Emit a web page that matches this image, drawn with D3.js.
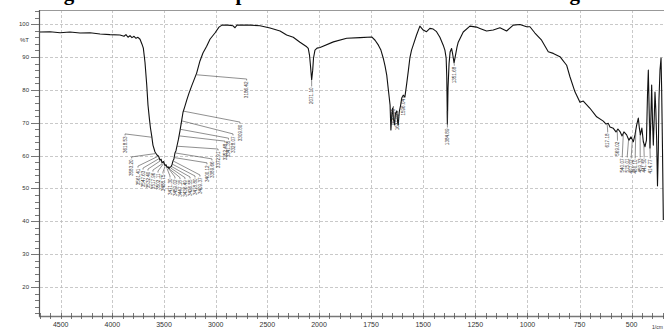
<!DOCTYPE html>
<html>
<head>
<meta charset="utf-8">
<script src="https://cdn.jsdelivr.net/npm/d3@7"></script>
<style>
  body { margin: 0; background: #fff; }
  svg { display: block; }
  .lbl { font-family: "Liberation Sans", Arial, sans-serif; fill: #333; }
  .title { font-family: "Liberation Serif", "Times New Roman", serif; font-weight: bold; font-size: 21px; fill: #000; }
</style>
</head>
<body>
<div id="chart"></div>
<script>
// spectrum (wavenumber in 1/cm, transmittance in %T)
const wavenumbers = [4700, 4603, 4506, 4410, 4313, 4216, 4119, 4023, 3926, 3887, 3868, 3848, 3829, 3810, 3790, 3771, 3752,
  3732, 3713, 3700, 3684, 3667, 3655, 3642, 3631, 3619, 3607, 3587, 3568, 3552, 3539, 3528, 3519, 3505, 3490, 3480, 3471,
  3460, 3452, 3442, 3432, 3422, 3413, 3404, 3394, 3384, 3374, 3360, 3345, 3330, 3316, 3298, 3280, 3258, 3232, 3184, 3152,
  3123, 3087, 3055, 3007, 2968, 2939, 2881, 2832, 2813, 2794, 2668, 2571, 2474, 2377, 2313, 2249, 2184, 2119, 2104, 2092,
  2082, 2071, 2061, 2053, 2039, 2019, 1995, 1931, 1867, 1803, 1747, 1731, 1715, 1703, 1692, 1683, 1675, 1667, 1659, 1655,
  1651, 1647, 1643, 1638, 1633, 1627, 1623, 1620, 1615, 1609, 1603, 1596, 1588, 1580, 1571, 1564, 1556, 1548, 1532, 1516,
  1500, 1484, 1468, 1452, 1436, 1420, 1404, 1396, 1390, 1387, 1384, 1381, 1376, 1371, 1364, 1359, 1352, 1345, 1338, 1332,
  1308, 1276, 1244, 1228, 1196, 1164, 1132, 1100, 1068, 1036, 1004, 988, 964, 932, 900, 876, 844, 812, 796, 772, 748, 732,
  700, 668, 636, 623, 612, 604, 588, 575, 566, 556, 546, 537, 524, 513, 503, 492, 484, 476, 468, 463, 458, 451, 444, 436,
  429, 424, 420, 416, 412, 408, 404, 400, 396, 392, 388, 384, 380, 376, 372, 369, 364, 359, 356, 352, 348];
const transmittance = [97.6, 97.7, 97.4, 97.6, 97.3, 97.4, 97.0, 96.8, 96.7, 96.3, 96.8, 96.0, 96.5, 95.9, 96.3, 95.7, 96.0,
  95.4, 93.9, 92.7, 88.4, 81.5, 75.4, 71.4, 68.4, 66.0, 63.2, 61.1, 60.2, 59.8, 58.6, 58.9, 57.8, 58.2, 57.0, 57.2, 56.4,
  56.6, 56.0, 56.5, 56.6, 57.3, 58.4, 59.0, 60.8, 61.5, 63.0, 65.0, 67.6, 70.5, 73.2, 75.0, 76.9, 79.0, 81.2, 85.1, 88.8,
  91.2, 93.3, 95.4, 97.3, 99.1, 99.7, 99.7, 99.5, 98.9, 99.7, 99.7, 99.5, 98.8, 97.9, 96.7, 96.0, 94.5, 93.1, 92.6, 90.6,
  87.2, 83.0, 86.0, 89.7, 92.1, 92.7, 92.9, 94.6, 95.7, 95.9, 96.1, 95.1, 93.6, 92.1, 89.7, 87.2, 84.5, 79.9, 75.4, 67.8,
  72.3, 74.5, 71.4, 69.3, 72.9, 73.6, 70.2, 69.3, 73.3, 75.1, 77.5, 78.4, 77.8, 81.5, 86.0, 89.7, 92.1, 93.6, 96.7, 99.4,
  98.2, 97.7, 98.7, 98.5, 97.7, 96.0, 93.6, 92.1, 89.7, 84.0, 69.6, 80.5, 88.0, 91.5, 92.6, 91.0, 88.2, 90.6, 93.0, 94.5,
  97.6, 99.4, 99.1, 98.7, 97.9, 98.2, 98.9, 97.9, 99.7, 99.9, 99.2, 99.2, 97.3, 95.1, 91.6, 91.1, 90.1, 87.5, 84.0, 79.4,
  76.2, 76.6, 74.4, 71.8, 70.5, 69.6, 69.8, 68.7, 68.3, 67.2, 68.1, 67.3, 66.0, 67.2, 66.3, 64.7, 65.7, 64.2, 66.3, 69.3,
  71.4, 68.4, 66.3, 68.4, 64.2, 62.7, 64.7, 78.4, 86.0, 73.9, 62.3, 70.8, 81.5, 70.8, 63.2, 70.8, 79.3, 73.9, 64.7, 50.8,
  61.7, 76.9, 86.0, 89.7, 79.9, 61.7, 40.4];

const xTickLabels = [4500, 4000, 3500, 3000, 2500, 2000, 1750, 1500, 1250, 1000, 750, 500];
const yTickLabels = [100, 90, 80, 70, 60, 50, 40, 30, 20];

// picked peaks and where their labels hang (wavenumber, %T of label top)
const peakWn = [3618.53, 3583.20, 3561.41, 3547.63, 3532.40, 3517.96, 3502.11, 3488.75, 3471.30, 3459.02, 3447.18,
  3436.49, 3426.55, 3418.80, 3409.37, 3400.12, 3389.66, 3372.91, 3352.48, 3341.35, 3328.07, 3309.80, 3186.42,
  2071.10, 1643.35, 1627.92, 1596.04, 1384.89, 1351.68, 617.18, 569.02, 540.07, 515.01, 497.02, 480.10, 459.33,
  441.50, 414.77];
const peakLabelWn = [3877, 3813, 3752, 3703, 3655, 3607, 3558, 3510, 3442, 3394, 3345, 3297, 3248, 3200, 3152, 3084,
  3036, 2977, 2910, 2876, 2832, 2765, 2700, 2071, 1643, 1624, 1596, 1384, 1351, 615, 568, 545, 521, 502, 483, 459,
  440, 411];
const peakLabelT = [66.6, 59.6, 56.8, 56.2, 55.9, 55.6, 55.3, 55.0, 53.8, 53.5, 53.3, 53.3, 53.5, 53.8, 54.1, 57.8,
  59.0, 62.0, 64.4, 65.3, 66.6, 70.2, 83.3, 81.5, 75.0, 73.5, 78.0, 69.0, 87.8, 67.5, 65.0, 59.9, 59.9, 59.6, 59.6,
  59.9, 59.9, 59.6];

const titleText = "Figure 1: The FTIR spectrum of the modified resin showing";

const W = 664, H = 330;
const plotL = 40, plotR = 665, plotT = 10, plotB = 316;

const svg = d3.select('#chart').append('svg').attr('width', W).attr('height', H);

// Shimadzu style break: 2000 1/cm has its own scale on each side
const x = d3.scaleLinear().domain([4700, 2000, 340]).range([plotL, 319, plotR]);
const y = d3.scaleLinear().domain([11.2, 104.3]).range([plotB, plotT]);

// the caption sits above the crop, only its descenders show
svg.append('text').attr('class', 'title').attr('x', 45).attr('y', -0.5).text(titleText);

// grid
svg.append('g').selectAll('line').data(xTickLabels).enter().append('line')
  .attr('x1', d => Math.round(x(d)) + 0.5).attr('x2', d => Math.round(x(d)) + 0.5)
  .attr('y1', plotT).attr('y2', plotB)
  .attr('stroke', '#bbb').attr('stroke-width', 0.8).attr('stroke-dasharray', '3,2');
svg.append('g').selectAll('line').data(yTickLabels).enter().append('line')
  .attr('x1', plotL).attr('x2', W)
  .attr('y1', d => Math.round(y(d)) + 0.5).attr('y2', d => Math.round(y(d)) + 0.5)
  .attr('stroke', '#bbb').attr('stroke-width', 0.8).attr('stroke-dasharray', '3,2');

// frame top
svg.append('line').attr('x1', plotL).attr('x2', W).attr('y1', plotT + 0.5).attr('y2', plotT + 0.5)
  .attr('stroke', '#999').attr('stroke-width', 1);

// y axis
const yMinor = d3.range(12, 105, 2);
svg.append('line').attr('x1', plotL - 0.5).attr('x2', plotL - 0.5).attr('y1', plotT).attr('y2', plotB + 1)
  .attr('stroke', '#555').attr('stroke-width', 1.2);
svg.append('g').selectAll('line').data(yMinor).enter().append('line')
  .attr('x1', d => d % 10 === 0 ? plotL - 9 : plotL - 5).attr('x2', plotL - 1)
  .attr('y1', d => Math.round(y(d)) + 0.5).attr('y2', d => Math.round(y(d)) + 0.5)
  .attr('stroke', '#555').attr('stroke-width', 0.8);
svg.append('g').selectAll('text').data(yTickLabels).enter().append('text')
  .attr('class', 'lbl').attr('font-size', 6)
  .attr('x', plotL - 11).attr('y', d => y(d) + 2)
  .attr('text-anchor', 'end').text(d => d);
svg.append('text').attr('class', 'lbl').attr('font-size', 6)
  .attr('x', plotL - 11).attr('y', y(95.2) + 2).attr('text-anchor', 'end').text('%T');

// x axis
const xMinor = d3.range(4700, 2000, -100).concat(d3.range(2000, 339, -50));
svg.append('line').attr('x1', plotL - 1).attr('x2', W).attr('y1', plotB + 0.5).attr('y2', plotB + 0.5)
  .attr('stroke', '#777').attr('stroke-width', 1.6);
svg.append('g').selectAll('line').data(xMinor).enter().append('line')
  .attr('x1', d => Math.round(x(d)) + 0.5).attr('x2', d => Math.round(x(d)) + 0.5)
  .attr('y1', plotB - 3).attr('y2', plotB + 3)
  .attr('stroke', '#555').attr('stroke-width', 0.8);
svg.append('g').selectAll('text').data(xTickLabels).enter().append('text')
  .attr('class', 'lbl').attr('font-size', 7)
  .attr('x', d => x(d)).attr('y', plotB + 11)
  .attr('text-anchor', 'middle').text(d => d);
svg.append('text').attr('class', 'lbl').attr('font-size', 5)
  .attr('x', 652).attr('y', 329).text('1/cm');

// spectrum
const pts = wavenumbers.map((w, i) => [w, transmittance[i]]);
const line = d3.line().x(d => x(d[0])).y(d => y(d[1]));
svg.append('path').datum(pts).attr('d', line)
  .attr('fill', 'none').attr('stroke', '#111').attr('stroke-width', 1.1).attr('stroke-linejoin', 'round');

// curve value at a wavenumber
function tAt(w) {
  const i = d3.bisector(d => -d).left(wavenumbers, -w);
  if (i <= 0) return transmittance[0];
  if (i >= wavenumbers.length) return transmittance[transmittance.length - 1];
  const w0 = wavenumbers[i - 1], w1 = wavenumbers[i];
  const k = (w0 - w) / (w0 - w1);
  return transmittance[i - 1] + k * (transmittance[i] - transmittance[i - 1]);
}

// peak labels with leaders
const peaks = peakWn.map((w, i) => ({ w, lw: peakLabelWn[i], lt: peakLabelT[i] }));
const pg = svg.append('g');
pg.selectAll('polyline').data(peaks).enter().append('polyline')
  .attr('points', d => {
    const px = x(d.w), py = y(tAt(d.w)) + 1;
    const lx = x(d.lw), ly = y(d.lt);
    return [[px, py], [lx, ly], [lx, ly + 1.5]].map(p => p.join(',')).join(' ');
  })
  .attr('fill', 'none').attr('stroke', '#444').attr('stroke-width', 0.6);
pg.selectAll('text').data(peaks).enter().append('text')
  .attr('class', 'lbl').attr('font-size', 4.6)
  .attr('transform', d => `translate(${x(d.lw) + 1.6},${y(d.lt) + 2.5}) rotate(-90)`)
  .attr('text-anchor', 'end').text(d => d.w.toFixed(2));
</script>
</body>
</html>
